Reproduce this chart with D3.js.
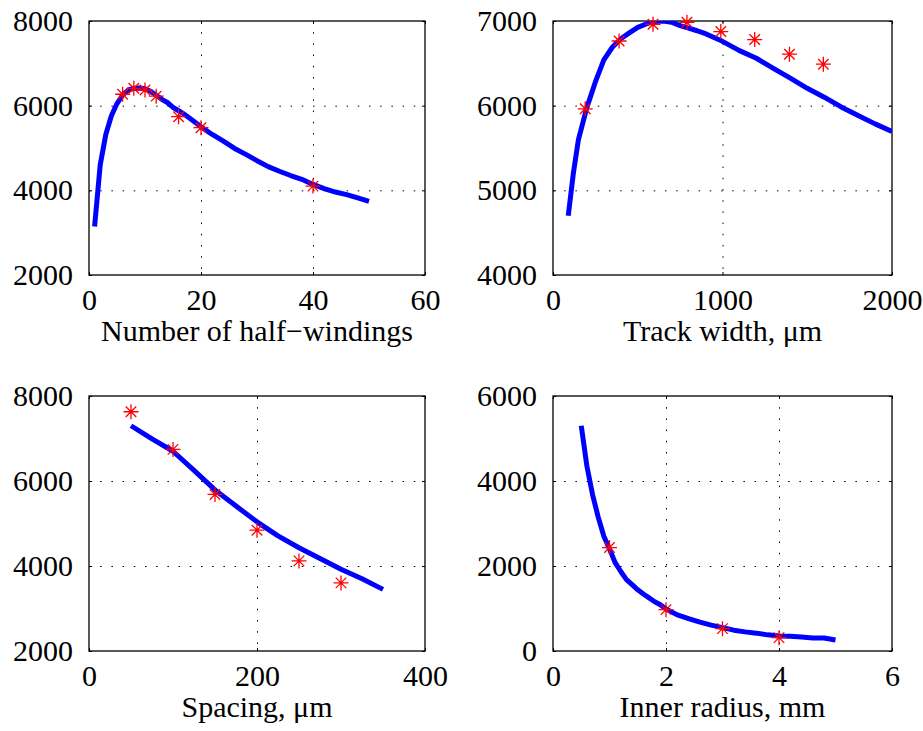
<!DOCTYPE html>
<html lang="en">
<head>
    <meta charset="UTF-8">
    <title>Coil parameter study</title>
    <style>
        body {
            margin: 0;
            background: #fff;
        }
        svg text {
            font-family: "Liberation Serif", "Times New Roman", serif;
            fill: #000;
        }
        .tick text {
            font-size: 30px;
        }
        .axis-label {
            font-size: 30px;
        }
        .grid line {
            stroke: #000;
            stroke-width: 1;
            stroke-dasharray: 1.5 9.7;
        }
        .grid path {
            display: none;
        }
    </style>
</head>
<body>
    <div id="chart"></div>

    <script src="https://d3js.org/d3.v7.min.js"></script>
    <script>
        // --- number of half-windings ---
        const hwX = [1, 2, 3, 4, 5, 6, 7, 8, 9, 10, 11, 12, 13, 14, 15, 16, 17, 18, 20, 22, 24, 26, 28, 30, 32, 34, 36, 38, 40, 42, 44, 46, 48, 50];
        const hwY = [3145, 4600, 5320, 5760, 6050, 6250, 6370, 6410, 6415, 6400, 6340, 6245, 6150, 6075, 5960, 5880, 5800, 5700, 5500, 5320, 5160, 4990, 4850, 4700, 4560, 4450, 4350, 4260, 4140, 4040, 3960, 3900, 3820, 3740];
        const hwMeasX = [6, 8, 10, 12, 16, 20, 40];
        const hwMeasY = [6270, 6410, 6370, 6225, 5740, 5480, 4100];
        const hwTicksX = [0, 20, 40, 60];
        const hwTicksY = [2000, 4000, 6000, 8000];

        // --- track width ---
        const twX = [90, 120, 150, 200, 250, 300, 350, 400, 450, 500, 550, 600, 650, 700, 750, 800, 850, 900, 950, 1000, 1100, 1200, 1300, 1400, 1500, 1600, 1700, 1800, 1900, 2000];
        const twY = [4700, 5200, 5600, 5980, 6280, 6540, 6690, 6790, 6860, 6925, 6965, 6995, 7000, 6985, 6945, 6915, 6885, 6850, 6805, 6760, 6650, 6560, 6440, 6325, 6205, 6100, 5985, 5885, 5785, 5696];
        const twMeasX = [190, 390, 590, 790, 990, 1190, 1395, 1595];
        const twMeasY = [5963, 6764, 6961, 6985, 6875, 6781, 6608, 6490];
        const twTicksX = [0, 1000, 2000];
        const twTicksY = [4000, 5000, 6000, 7000];

        // --- spacing ---
        const spX = [50, 75, 100, 125, 150, 175, 200, 225, 250, 275, 300, 325, 350];
        const spY = [7300, 6990, 6700, 6250, 5790, 5410, 5040, 4710, 4430, 4175, 3925, 3700, 3450];
        const spMeasX = [50, 100, 150, 200, 250, 300];
        const spMeasY = [7630, 6744, 5684, 4843, 4120, 3602];
        const spTicksX = [0, 200, 400];
        const spTicksY = [2000, 4000, 6000, 8000];

        // --- inner radius ---
        const irX = [0.5, 0.6, 0.7, 0.8, 0.9, 1.0, 1.1, 1.2, 1.3, 1.4, 1.5, 1.6, 1.7, 1.8, 1.9, 2.0, 2.2, 2.4, 2.6, 2.8, 3.0, 3.2, 3.4, 3.6, 3.8, 4.0, 4.2, 4.4, 4.6, 4.8, 5.0];
        const irY = [5300, 4350, 3680, 3150, 2700, 2400, 2080, 1870, 1680, 1560, 1440, 1340, 1250, 1160, 1090, 990, 850, 760, 680, 610, 550, 490, 450, 420, 380, 355, 345, 330, 305, 305, 260];
        const irMeasX = [1, 2, 3, 4];
        const irMeasY = [2434, 973, 526, 314];
        const irTicksX = [0, 2, 4, 6];
        const irTicksY = [0, 2000, 4000, 6000];

        const W = 923, H = 731;

        const panels = [
            { box: [89, 21, 425, 275], xs: hwX, ys: hwY, mx: hwMeasX, my: hwMeasY, tx: hwTicksX, ty: hwTicksY, label: "Number of half\u2212windings" },
            { box: [553, 21, 892, 275], xs: twX, ys: twY, mx: twMeasX, my: twMeasY, tx: twTicksX, ty: twTicksY, label: "Track width, \u03bcm" },
            { box: [89, 396, 425, 651], xs: spX, ys: spY, mx: spMeasX, my: spMeasY, tx: spTicksX, ty: spTicksY, label: "Spacing, \u03bcm" },
            { box: [553, 396, 892, 651], xs: irX, ys: irY, mx: irMeasX, my: irMeasY, tx: irTicksX, ty: irTicksY, label: "Inner radius, mm" }
        ];

        // asterisk marker like matlab '*'
        function starPath(r) {
            const d = r * 0.7;
            return `M${-r},0H${r}M0,${-r}V${r}M${-d},${-d}L${d},${d}M${-d},${d}L${d},${-d}`;
        }

        function drawPanel(svg, p, idx) {
            const [x0, y0, x1, y1] = p.box;
            const w = x1 - x0, h = y1 - y0;

            const x = d3.scaleLinear().domain(d3.extent(p.tx)).range([0, w]);
            const y = d3.scaleLinear().domain(d3.extent(p.ty)).range([h, 0]);

            const g = svg.append("g").attr("transform", `translate(${x0},${y0})`);

            g.append("clipPath").attr("id", "clip" + idx)
                .append("rect").attr("width", w).attr("height", h);

            // dotted grid on inner ticks
            const innerX = p.tx.slice(1, -1), innerY = p.ty.slice(1, -1);
            g.append("g").attr("class", "grid")
                .call(d3.axisBottom(x).tickValues(innerX).tickSize(h).tickFormat(""));
            g.append("g").attr("class", "grid")
                .call(d3.axisLeft(y).tickValues(innerY).tickSize(-w).tickFormat(""));

            // axes, ticks pointing inside
            g.append("g").attr("transform", `translate(0,${h})`)
                .call(d3.axisBottom(x).tickValues(p.tx).tickSize(-3).tickPadding(14).tickFormat(d3.format("d")));
            g.append("g")
                .call(d3.axisLeft(y).tickValues(p.ty).tickSize(-3).tickPadding(16).tickFormat(d3.format("d")));
            g.append("g")
                .call(d3.axisTop(x).tickValues(p.tx).tickSize(-3).tickFormat(""));
            g.append("g").attr("transform", `translate(${w},0)`)
                .call(d3.axisRight(y).tickValues(p.ty).tickSize(-3).tickFormat(""));
            g.selectAll(".domain").attr("stroke", "none");
            g.selectAll(".tick line").attr("stroke", "#000");

            // frame
            g.append("rect")
                .attr("width", w).attr("height", h)
                .attr("fill", "none").attr("stroke", "#000").attr("stroke-width", 1.3);

            // model curve
            const pts = p.xs.map((v, i) => [v, p.ys[i]]);
            g.append("path")
                .datum(pts)
                .attr("clip-path", `url(#clip${idx})`)
                .attr("fill", "none")
                .attr("stroke", "#0000ff")
                .attr("stroke-width", 5)
                .attr("stroke-linejoin", "round")
                .attr("d", d3.line().x(d => x(d[0])).y(d => y(d[1])));

            // measured points
            g.selectAll(".meas")
                .data(p.mx.map((v, i) => [v, p.my[i]]))
                .enter()
                .append("path")
                .attr("class", "meas")
                .attr("transform", d => `translate(${x(d[0])},${y(d[1])})`)
                .attr("d", starPath(7.5))
                .attr("fill", "none")
                .attr("stroke", "#ff0000")
                .attr("stroke-width", 1.3);

            // x label
            g.append("text")
                .attr("class", "axis-label")
                .attr("x", w / 2)
                .attr("y", h + 66)
                .attr("text-anchor", "middle")
                .text(p.label);
        }

        const svg = d3.select("#chart")
            .append("svg")
            .attr("width", W)
            .attr("height", H);

        svg.append("rect").attr("width", W).attr("height", H).attr("fill", "#fff");

        panels.forEach((p, i) => drawPanel(svg, p, i));
    </script>
</body>
</html>
